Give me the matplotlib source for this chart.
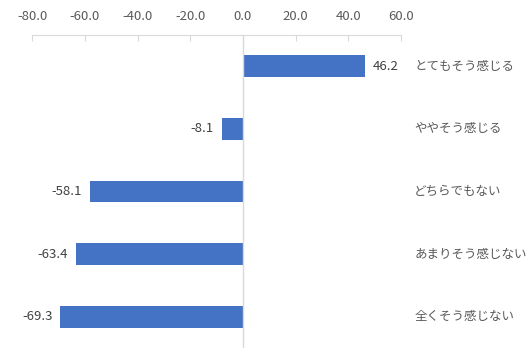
import numpy as np
import matplotlib.pyplot as plt

categories = ['とてもそう感じる', 'ややそう感じる', 'どちらでもない', 'あまりそう感じない', '全くそう感じない']
values = [46.2, -8.1, -58.1, -63.4, -69.3]
xticks = [-80, -60, -40, -20, 0, 20, 40, 60]

plt.rcParams['font.family'] = ['Noto Sans CJK JP', 'DejaVu Sans']

fig = plt.figure(figsize=(5.31, 3.61), dpi=100)
ax = fig.add_axes([32.3 / 531, 1 - 348 / 361, 368.7 / 531, 313 / 361])

y = np.arange(len(categories))
ax.barh(y, values, height=0.35, color='#4472C4')
ax.set_ylim(len(categories) - 0.5, -0.5)
ax.set_xlim(-80, 60)

ax.axvline(0, color='#D9D9D9', lw=1)

for yi, v, cat in zip(y, values, categories):
    if v >= 0:
        ax.text(v + 3, yi, f'{v:.1f}', ha='left', va='center', fontsize=9.5, color='#404040')
    else:
        ax.text(v - 3, yi, f'{v:.1f}', ha='right', va='center', fontsize=9.5, color='#404040')
    ax.text(65, yi, cat, ha='left', va='center', fontsize=9, color='#595959')

ax.xaxis.tick_top()
ax.set_xticks(xticks)
ax.set_xticklabels([f'{t:.1f}' for t in xticks], fontsize=9.5, color='#595959')
ax.tick_params(axis='x', direction='in', length=4, color='#D9D9D9', pad=9)
ax.set_yticks([])
for s in ['bottom', 'left', 'right']:
    ax.spines[s].set_visible(False)
ax.spines['top'].set_color('#D9D9D9')

fig.savefig('out.png', dpi=100)
